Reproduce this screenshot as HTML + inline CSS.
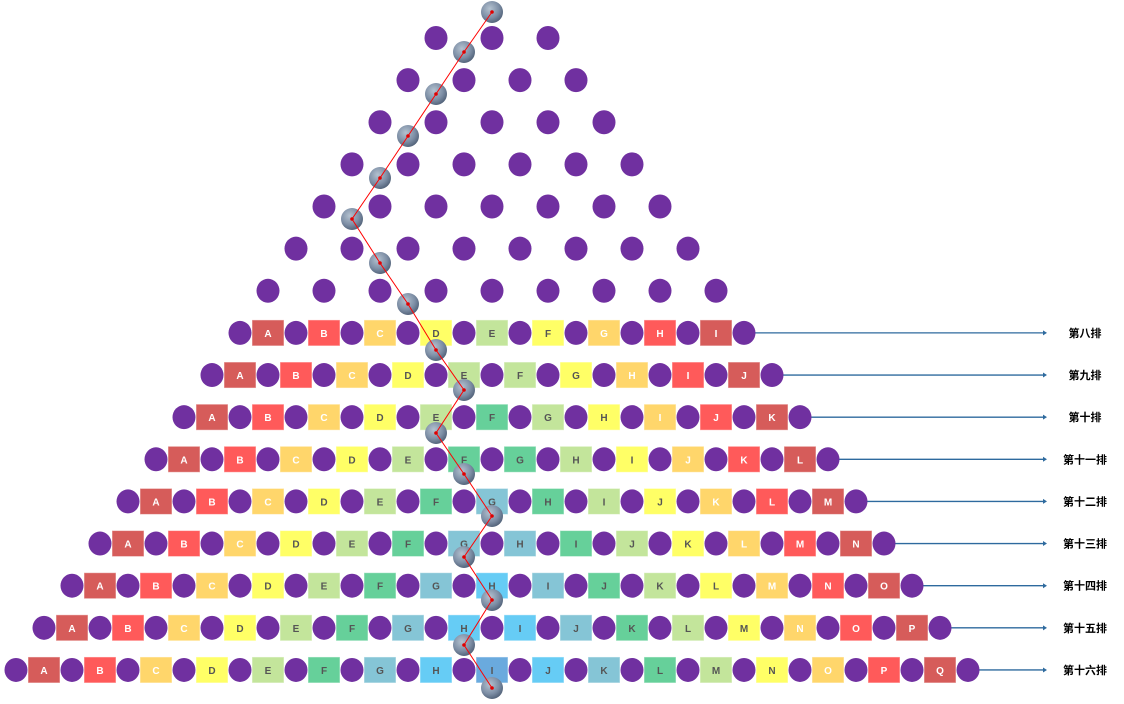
<!DOCTYPE html>
<html><head><meta charset="utf-8"><style>
body{margin:0;background:#fff;}
svg text{font-family:"Liberation Sans","Noto Sans CJK SC",sans-serif;}
</style></head><body>
<svg id="c" width="1124" height="699" xmlns="http://www.w3.org/2000/svg">
<defs>
<radialGradient id="bg" cx="0.4" cy="0.35" r="0.7">
<stop offset="0" stop-color="#b4c2d0"/><stop offset="0.6" stop-color="#7d8ea5"/><stop offset="1" stop-color="#4d5d74"/>
</radialGradient>
</defs>
</svg>
<script>
const rowNames=['第八排','第九排','第十排','第十一排','第十二排','第十三排','第十四排','第十五排','第十六排'];
const letters=['A','B','C','D','E','F','G','H','I','J','K','L','M','N','O','P','Q'];
const palette=['#d65c5a','#ff5a5a','#ffd66b','#ffff66','#c3e59b','#66d09a','#85c5d6','#66ccf5','#6aaade'];
const ballX=[492,464,436,408,380,352,380,408,436,464,436,464,492,464,492,464,492];
const ballY=[12,52,94,136,178,219,263,304,350,390,433,474,516,557,600,645,688];
const NS='http://www.w3.org/2000/svg';
const svg=document.getElementById('c');
function mk(t,a){const e=document.createElementNS(NS,t);for(const k in a)e.setAttribute(k,a[k]);svg.appendChild(e);return e;}
const cx=492,dx=56,y0=38,dy=42.13;
for(let r=1;r<=16;r++){
  const y=y0+(r-1)*dy;
  const n=r+2;
  const x0=cx-(r+1)*28;
  if(r>=8){
    const lastX=x0+(n-1)*dx;
    const ln=mk('line',{x1:lastX+10,y1:y,x2:1043,y2:y,stroke:'#2e6a9e','stroke-width':1.3});
    
    
    const ar=mk('polygon',{points:`${1043},${y-2.5} ${1047},${y} ${1043},${y+2.5}`,fill:'#2e6a9e'});
    
    
    const lb=mk('text',{x:1085,y:y+4,'text-anchor':'middle','font-size':11,'font-weight':'bold',fill:'#000'});
    lb.textContent=rowNames[r-8];
    
    
    const m=r+1;
    for(let i=0;i<m;i++){
      const sx=x0+28+i*dx;
      const ci=Math.min(i,m-1-i);
      const rc=mk('rect',{x:sx-16,y:y-13,width:32,height:26,fill:palette[Math.min(ci,8)],stroke:'rgba(255,255,255,0.5)','stroke-width':1});
      
      
      const t=mk('text',{x:sx,y:y+4,'text-anchor':'middle','font-size':10,'font-weight':'bold',fill:ci<3?'#fff':'#555'});
      t.textContent=letters[i];
      
      
    }
  }
  for(let i=0;i<n;i++){
    const p=mk('ellipse',{cx:x0+i*dx,cy:y,rx:11.5,ry:12,fill:'#7030a0'});
    
    
  }
}
let d='';
for(let i=0;i<ballX.length;i++)d+=(i?'L':'M')+ballX[i]+','+ballY[i];
for(let i=0;i<ballX.length;i++){
  const b=mk('circle',{cx:ballX[i],cy:ballY[i],r:11,fill:'url(#bg)'});
  
  
}
const path=mk('path',{d:d,fill:'none',stroke:'#ff0000','stroke-width':1});


for(let i=0;i<ballX.length;i++){
  const dt=mk('circle',{cx:ballX[i],cy:ballY[i],r:1.8,fill:'#e00000'});
  
  
}
</script>
</body></html>
